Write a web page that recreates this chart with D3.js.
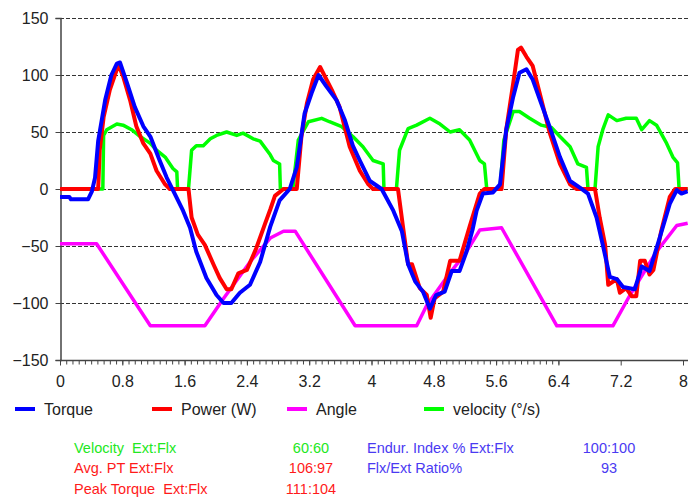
<!DOCTYPE html>
<html>
<head>
<meta charset="utf-8">
<script src="https://cdn.jsdelivr.net/npm/d3@7"></script>
<style>
  html, body { margin: 0; padding: 0; background: #fff; }
  svg { display: block; font-family: "Liberation Sans", Arial, sans-serif; }
</style>
</head>
<body>
<svg id="chart" width="688" height="500"></svg>
<script>
// ---------- DATA ----------
const yTicks = [150, 100, 50, 0, -50, -100, -150];
const xTickLabels = [0, 0.8, 1.6, 2.4, 3.2, 4, 4.8, 5.6, 6.4, 7.2, 8];

const torque = [[0,-7],[0.12,-7],[0.14,-9],[0.36,-9],[0.41,-2],[0.45,10],[0.49,42],[0.58,78],[0.66,100],[0.73,110],[0.77,111],[0.86,93],[0.96,72],[1.07,55],[1.16,46],[1.28,25],[1.37,10],[1.45,-1],[1.58,-19],[1.67,-34],[1.75,-55],[1.88,-78],[2.01,-93],[2.10,-100],[2.20,-100],[2.31,-91],[2.44,-84],[2.57,-64],[2.70,-33],[2.82,-10],[2.95,0],[3.04,19],[3.14,66],[3.23,84],[3.32,100],[3.42,90],[3.55,78],[3.66,60],[3.76,38],[3.85,25],[3.98,7],[4.13,0],[4.28,-19],[4.39,-37],[4.47,-66],[4.56,-81],[4.66,-90],[4.75,-105],[4.83,-93],[4.94,-90],[5.03,-72],[5.13,-72],[5.22,-55],[5.30,-35],[5.35,-19],[5.43,-4],[5.56,-3],[5.65,4],[5.73,52],[5.82,81],[5.90,102],[5.99,105],[6.07,96],[6.18,75],[6.29,54],[6.42,28],[6.55,7],[6.68,1],[6.78,-4],[6.89,-25],[6.97,-49],[7.06,-77],[7.15,-79],[7.23,-86],[7.38,-88],[7.47,-68],[7.57,-72],[7.70,-43],[7.83,-13],[7.92,-1],[7.98,-4],[8.06,-2]];

const power = [[0,0],[0.49,0],[0.51,34],[0.56,63],[0.64,87],[0.75,109],[0.81,99],[0.90,78],[0.98,55],[1.07,40],[1.16,31],[1.24,16],[1.35,4],[1.41,0],[1.65,0],[1.69,-25],[1.77,-40],[1.86,-49],[1.97,-66],[2.05,-78],[2.14,-88],[2.20,-88],[2.29,-74],[2.40,-71],[2.52,-52],[2.63,-31],[2.70,-18],[2.76,-6],[2.87,0],[3.04,0],[3.10,46],[3.17,75],[3.25,96],[3.34,107],[3.40,99],[3.49,87],[3.59,72],[3.72,37],[3.85,16],[3.96,4],[4.02,0],[4.34,0],[4.40,-31],[4.47,-66],[4.52,-66],[4.62,-87],[4.71,-93],[4.76,-113],[4.81,-96],[4.92,-90],[5.01,-63],[5.13,-63],[5.26,-33],[5.39,-4],[5.45,0],[5.67,0],[5.73,52],[5.82,93],[5.88,122],[5.92,124],[5.99,116],[6.07,108],[6.16,84],[6.29,49],[6.42,22],[6.55,4],[6.63,0],[6.87,0],[6.93,-25],[7.00,-49],[7.04,-84],[7.15,-79],[7.19,-91],[7.27,-87],[7.34,-94],[7.40,-94],[7.45,-63],[7.51,-63],[7.57,-75],[7.62,-71],[7.72,-37],[7.83,-7],[7.90,0],[8.06,0]];

const angle = [[0,-48],[0.47,-48],[1.16,-120],[1.86,-120],[2.10,-96],[2.44,-64],[2.70,-43],[2.87,-37],[3.02,-37],[3.79,-120],[4.58,-120],[4.71,-102],[4.96,-78],[5.22,-55],[5.39,-36],[5.67,-34],[6.38,-120],[7.10,-120],[7.32,-93],[7.66,-55],[7.92,-32],[8.06,-30]];

const velocity = [[0,0],[0.55,0],[0.56,47],[0.60,52],[0.73,57],[0.81,56],[0.92,52],[1.03,46],[1.16,40],[1.24,34],[1.35,28],[1.45,18],[1.50,15],[1.51,0],[1.65,0],[1.69,34],[1.75,38],[1.84,38],[1.93,44],[2.01,47],[2.14,50],[2.27,47],[2.35,49],[2.48,44],[2.57,42],[2.70,30],[2.74,25],[2.82,22],[2.83,0],[2.99,0],[3.06,43],[3.19,59],[3.36,62],[3.46,59],[3.61,55],[3.76,46],[3.89,37],[4.02,25],[4.15,22],[4.16,0],[4.32,0],[4.36,34],[4.47,53],[4.58,56],[4.75,62],[4.88,57],[5.01,50],[5.13,52],[5.26,43],[5.39,25],[5.45,22],[5.48,0],[5.65,0],[5.70,43],[5.82,68],[5.90,68],[6.03,62],[6.18,56],[6.31,54],[6.42,46],[6.55,37],[6.65,22],[6.76,19],[6.78,0],[6.87,0],[6.91,37],[6.97,52],[7.04,65],[7.15,60],[7.27,62],[7.40,62],[7.47,52],[7.57,60],[7.66,56],[7.79,40],[7.87,28],[7.93,23],[7.95,0],[8.06,0]];

const seriesNames = ["Torque", "Power (W)", "Angle", "velocity (°/s)"];
const seriesColors = ["#0000ff", "#ff0000", "#ff00ff", "#00ff00"];

const statLabelsLeft = ["Velocity  Ext:Flx", "Avg. PT Ext:Flx", "Peak Torque  Ext:Flx"];
const statValuesLeft = ["60:60", "106:97", "111:104"];
const statColorsLeft = ["#22e822", "#ff1a1a", "#ff1a1a"];
const statLabelsRight = ["Endur. Index % Ext:Flx", "Flx/Ext Ratio%"];
const statValuesRight = ["100:100", "93"];
const statColorRight = "#4a3af2";

// ---------- CHART ----------
const svg = d3.select("#chart");
const x = d3.scaleLinear().domain([0, 8]).range([60, 683]);
const y = d3.scaleLinear().domain([-150, 150]).range([360, 18]);

// gridlines
svg.append("g").selectAll("line").data(yTicks.filter(d => d !== -150)).join("line")
  .attr("x1", 60).attr("x2", 688)
  .attr("y1", d => y(d) + 0.5).attr("y2", d => y(d) + 0.5)
  .attr("stroke", "#333").attr("stroke-width", 1)
  .attr("stroke-dasharray", "4,2");

// y axis
const yAxis = d3.axisLeft(y).tickValues(yTicks).tickSize(5).tickPadding(7);
const gy = svg.append("g").attr("transform", "translate(60.5,0)").call(yAxis);
gy.select(".domain").attr("stroke", "#444").attr("stroke-width", 1.5);
gy.selectAll(".tick line").attr("stroke", "#444");
gy.selectAll("text").attr("font-size", 16).attr("fill", "#222")
  .attr("font-family", "'Liberation Sans', Arial, sans-serif");

// x axis with minor ticks
const minorTicks = d3.range(0, 81).map(i => i * 0.1 * 0.8);
const xAxisMinor = d3.axisBottom(x).tickValues(minorTicks).tickSize(4).tickFormat("");
const gxm = svg.append("g").attr("transform", "translate(0,360.5)").call(xAxisMinor);
gxm.select(".domain").remove();
gxm.selectAll(".tick line").attr("stroke", "#444");

const xAxis = d3.axisBottom(x).tickValues(xTickLabels).tickSize(5).tickPadding(10)
  .tickFormat(d => String(d));
const gx = svg.append("g").attr("transform", "translate(0,360.5)").call(xAxis);
gx.select(".domain").attr("d", "M60,0H688").attr("stroke", "#444").attr("stroke-width", 1.5);
gx.selectAll(".tick line").attr("stroke", "#444");
gx.selectAll("text").attr("font-size", 16).attr("fill", "#222")
  .attr("font-family", "'Liberation Sans', Arial, sans-serif");

// lines
const line = d3.line().x(d => x(d[0])).y(d => y(d[1]));
const drawOrder = [
  {data: velocity, idx: 3, w: 3.5},
  {data: angle, idx: 2, w: 3.5},
  {data: power, idx: 1, w: 4},
  {data: torque, idx: 0, w: 4}
];
svg.append("defs").append("clipPath").attr("id", "clip")
  .append("rect").attr("x", 60).attr("y", 0).attr("width", 628).attr("height", 362);
const gl = svg.append("g").attr("clip-path", "url(#clip)");
drawOrder.forEach(s => {
  gl.append("path").datum(s.data)
    .attr("d", line)
    .attr("fill", "none")
    .attr("stroke", seriesColors[s.idx])
    .attr("stroke-width", s.w)
    .attr("stroke-linejoin", "round");
});

// legend
const legendSwatchX = [15, 152, 287, 424];
const legend = svg.append("g");
seriesNames.forEach((name, i) => {
  legend.append("line")
    .attr("x1", legendSwatchX[i]).attr("x2", legendSwatchX[i] + 20)
    .attr("y1", 409).attr("y2", 409)
    .attr("stroke", seriesColors[i]).attr("stroke-width", 4);
  legend.append("text")
    .attr("x", legendSwatchX[i] + 29).attr("y", 414.5)
    .attr("font-size", 16).attr("fill", "#222")
    .text(name);
});

// stats block
const rowY = [452.5, 473, 493.5];
const stats = svg.append("g").attr("font-size", 14.5);
statLabelsLeft.forEach((t, i) => {
  stats.append("text").attr("x", 74).attr("y", rowY[i]).attr("fill", statColorsLeft[i])
    .attr("xml:space", "preserve").style("white-space", "pre").text(t);
  stats.append("text").attr("x", 311).attr("y", rowY[i]).attr("text-anchor", "middle")
    .attr("fill", statColorsLeft[i]).text(statValuesLeft[i]);
});
statLabelsRight.forEach((t, i) => {
  stats.append("text").attr("x", 367).attr("y", rowY[i]).attr("fill", statColorRight).text(t);
  stats.append("text").attr("x", 609).attr("y", rowY[i]).attr("text-anchor", "middle")
    .attr("fill", statColorRight).text(statValuesRight[i]);
});
</script>
</body>
</html>
